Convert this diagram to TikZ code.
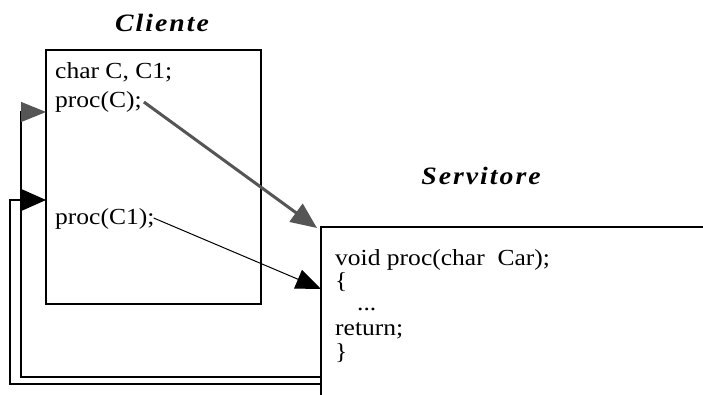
\documentclass[tikz,border=0pt]{standalone}
\usepackage{fontspec}
\setmainfont{Liberation Serif}[FakeStretch=1.11]
\newfontfamily\titlefont{Liberation Serif}[FakeStretch=1.11,LetterSpace=8]
\usetikzlibrary{arrows.meta,calc}
\definecolor{arrowgray}{HTML}{555555}
\begin{document}
\begin{tikzpicture}[x=1pt,y=-1pt,
  code/.style={anchor=base west, inner sep=0pt, font=\fontsize{23}{23}\selectfont},
  boxtitle/.style={anchor=base, inner sep=0pt, font=\titlefont\fontsize{25}{25}\selectfont\bfseries\itshape},
  box/.style={draw, line width=1.2pt},
  ret/.style={line width=1.2pt},
  grayarrow/.style={draw=arrowgray, line width=3pt, -{Triangle[length=26pt,width=22pt,color=arrowgray]}},
  blackarrow/.style={draw, line width=1pt, -{Triangle[length=25pt,width=20pt]}}
]
\useasboundingbox (0,0) rectangle (703,395);

% titles
\node[boxtitle] (tcli) at (162,32) {Cliente};
\node[boxtitle] (tsrv) at (481,185) {Servitore};

% client box
\node[box, inner sep=0pt, outer sep=0pt, minimum width=215pt, minimum height=254pt, anchor=north west] (cli) at (46,50) {};
\node[code] (charC) at (55,79) {char C, C1;};
\node[code] (procC) at (55,108) {proc(C);};
\node[code] (procC1) at (55,225) {proc(C1);};

% server box (open towards the right and bottom edges)
\coordinate (srvtl) at (321,227);
\coordinate (srvtr) at (703,227);
\coordinate (srvbl) at (321,395);
\draw[box] (srvtr) -- (srvtl) -- (srvbl);
\node[code] (s1) at (335,265) {void proc(char\ \ Car);};
\node[code] (s2) at (335,288) {\{};
\node[code] (s3) at (357,310) {...};
\node[code] (s4) at (335,335) {return;};
\node[code] (s5) at (335,359) {\}};

% call arrows
\coordinate (startC) at ($(procC.base east)+(2,-6)$);
\coordinate (startC1) at ($(procC1.base east)+(-1,-7)$);
\coordinate (endC) at (317,228);
\coordinate (endC1) at (321,289);
\draw[grayarrow] (startC) -- (endC);
\draw[blackarrow] (startC1) -- (endC1);

% return paths
\coordinate (r1a) at (321,377);
\coordinate (r1b) at (21,377);
\coordinate (r1c) at (21,112);
\coordinate (r1d) at (cli.west |- r1c);
\coordinate (r2a) at (321,384);
\coordinate (r2b) at (10,384);
\coordinate (r2c) at (10,200);
\coordinate (r2d) at (cli.west |- r2c);
\draw[ret, -{Triangle[length=25pt,width=20pt,color=arrowgray]}] (r1a) -- (r1b) -- (r1c) -- (r1d);
\draw[ret, -{Triangle[length=25pt,width=22pt]}] (r2a) -- (r2b) -- (r2c) -- (r2d);
\end{tikzpicture}
\end{document}
